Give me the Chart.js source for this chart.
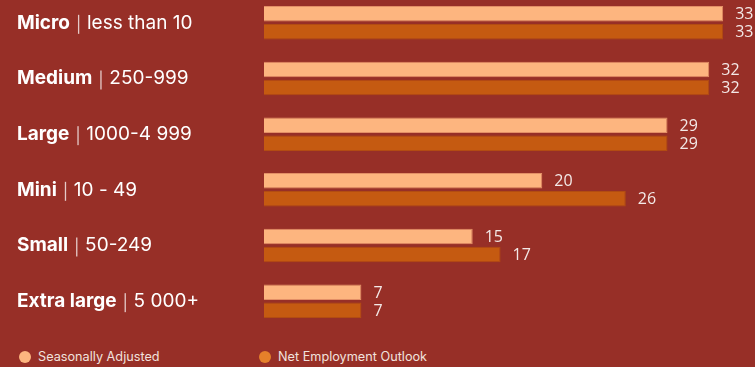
<!DOCTYPE html>
<html>
<head>
<meta charset="utf-8">
<script src="https://cdn.jsdelivr.net/npm/chart.js@4.4.1/dist/chart.umd.min.js"></script>
<style>
  html, body { margin: 0; padding: 0; background: #972f27; }
  #wrap { position: relative; width: 755px; height: 367px; overflow: hidden; background: #972f27; }
  #chart { position: absolute; left: 0; top: -5px; }
  .legend { position: absolute; top: 349px; font: 12.7px Inter, sans-serif; color: #f1e2de; display: flex; align-items: center; }
  .legend .dot { width: 12px; height: 12px; border-radius: 50%; margin-right: 7px; }
</style>
</head>
<body>
<div id="wrap">
  <canvas id="chart" width="755" height="334"></canvas>
  <div class="legend" style="left:19px"><span class="dot" style="background:#fdb57f"></span>Seasonally Adjusted</div>
  <div class="legend" style="left:259px"><span class="dot" style="background:#e5802a"></span>Net Employment Outlook</div>
</div>
<script>
// Company sizes and their employee ranges
const categories = ['Micro', 'Medium', 'Large', 'Mini', 'Small', 'Extra large'];
const sizeRanges = ['less than 10', '250-999', '1000-4 999', '10 - 49', '50-249', '5 000+'];
const seasonallyAdjusted = [33, 32, 29, 20, 15, 7];
const netEmploymentOutlook = [33, 32, 29, 26, 17, 7];

// Left side labels: bold size name | range
const sizeLabels = {
    id: 'sizeLabels',
    afterDraw(chart) {
        const ctx = chart.ctx;
        const y = chart.scales.y;
        ctx.save();
        ctx.textBaseline = 'middle';
        categories.forEach((name, i) => {
            const py = y.getPixelForValue(i);
            let px = 17;
            ctx.fillStyle = '#ffffff';
            ctx.font = 'bold 19px Inter, sans-serif';
            ctx.fillText(name, px, py);
            px += ctx.measureText(name).width + 8;
            ctx.fillStyle = 'rgba(255,255,255,0.75)';
            ctx.fillRect(px, py - 8, 1.3, 19);
            ctx.fillStyle = '#ffffff';
            px += 9;
            ctx.font = '19px Inter, sans-serif';
            ctx.fillText(sizeRanges[i], px, py);
        });
        ctx.restore();
    }
};

// Numbers after each bar end
const valueLabels = {
    id: 'valueLabels',
    afterDatasetsDraw(chart) {
        const ctx = chart.ctx;
        ctx.save();
        ctx.font = '16px "Open Sans", sans-serif';
        ctx.fillStyle = '#f3e9e7';
        ctx.textBaseline = 'middle';
        chart.data.datasets.forEach((ds, di) => {
            chart.getDatasetMeta(di).data.forEach((bar, i) => {
                ctx.fillText(ds.data[i], bar.x + 12, bar.y + 1);
            });
        });
        ctx.restore();
    }
};

new Chart(document.getElementById('chart'), {
    type: 'bar',
    data: {
        labels: categories,
        datasets: [{
            label: 'Seasonally Adjusted',
            data: seasonallyAdjusted,
            backgroundColor: '#fdb57f',
            borderColor: '#e38f66',
            borderWidth: 1,
            categoryPercentage: 0.647,
            barPercentage: 0.86
        }, {
            label: 'Net Employment Outlook',
            data: netEmploymentOutlook,
            backgroundColor: '#c55a11',
            borderColor: '#b24c12',
            borderWidth: 1,
            categoryPercentage: 0.647,
            barPercentage: 0.86
        }]
    },
    options: {
        indexAxis: 'y',
        responsive: false,
        animation: false,
        layout: { padding: { left: 264, right: 4, top: 0, bottom: 0 } },
        scales: {
            x: { display: false, min: 0, max: 35 },
            y: { display: false }
        },
        plugins: {
            legend: { display: false },
            tooltip: { enabled: false }
        }
    },
    plugins: [sizeLabels, valueLabels]
});
</script>
</body>
</html>
